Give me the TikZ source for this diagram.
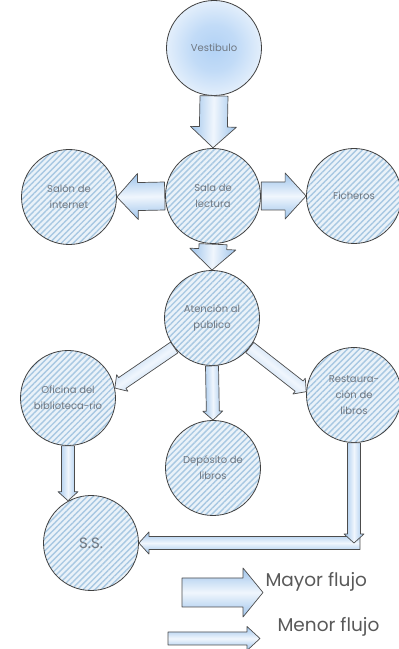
\documentclass[tikz,border=0pt]{standalone}
\usepackage{fontspec}
\setmainfont{Poppins}
\usetikzlibrary{calc,patterns.meta}
\definecolor{HatchBlue}{RGB}{168,200,226}
\definecolor{PaleBlue}{RGB}{234,242,249}
\definecolor{ArrowBlue}{RGB}{158,196,235}
\definecolor{ArrowLight}{RGB}{240,246,253}
\definecolor{LabelGray}{RGB}{112,120,130}
\definecolor{VestCore}{RGB}{178,210,245}
\pgfdeclareradialshading{vestglow}{\pgfpoint{0bp}{0bp}}{%
  color(0bp)=(VestCore); color(12bp)=(VestCore!80!white);
  color(24bp)=(VestCore!40!white); color(35bp)=(VestCore!12!white); color(50bp)=(white)}

% fat arrow: from, to, half shaft, half head, head length
\newcommand{\flujo}[5]{%
  \path (#1) coordinate (fs) (#2) coordinate (fe);
  \pgfmathanglebetweenpoints{\pgfpointanchor{fs}{center}}{\pgfpointanchor{fe}{center}}%
  \let\flang\pgfmathresult
  \coordinate (fb) at ($(fe)!#5!(fs)$);
  \shadedraw[flecha, shading angle=\flang]
    ($(fs)!#3!-90:(fe)$) -- ($(fb)!#3!90:(fs)$) -- ($(fb)!#4!90:(fs)$) -- (fe)
    -- ($(fb)!#4!-90:(fs)$) -- ($(fb)!#3!-90:(fs)$) -- ($(fs)!#3!90:(fe)$) -- cycle;
}

\begin{document}
\begin{tikzpicture}[
    x=1pt, y=1pt,
    lugar/.style={circle,draw=black!75,line width=0.8pt,minimum size=95pt,inner sep=0pt,
      preaction={fill=PaleBlue},
      pattern={Lines[angle=45,distance=4.2pt,line width=1.4pt]},pattern color=HatchBlue,
      text=LabelGray,align=center,font=\fontsize{10}{16}\selectfont},
    entrada/.style={circle,draw=black!75,line width=0.8pt,minimum size=95pt,inner sep=0pt,
      shading=vestglow,text=LabelGray,font=\fontsize{10}{16}\selectfont},
    flecha/.style={draw=black!70,line width=0.7pt,line join=round,
      top color=ArrowBlue,bottom color=ArrowBlue,middle color=ArrowLight},
    leyenda/.style={anchor=west,text=black!65,font=\fontsize{18.5}{22}\selectfont}
]
\useasboundingbox (0,0) rectangle (399,649);

% rooms
\node[entrada] (vest) at (214,601) {Vestibulo};
\node[lugar] (sala) at (213,453) {Sala de\\lectura};
\node[lugar] (salon) at (69,452) {Salón de\\internet};
\node[lugar] (fich) at (354,453) {Ficheros};
\node[lugar] (aten) at (212,331) {Atención al\\público};
\node[lugar] (ofic) at (68,251) {Oficina del\\biblioteca-rio};
\node[lugar] (rest) at (354,254) {Restaura-\\ción de\\libros};
\node[lugar] (depo) at (213,181) {Depósito de\\libros};
\node[lugar, font=\fontsize{15}{18}\selectfont] (ss) at (91,106) {S.S.};

% heavy flow
\flujo{vest.south}{sala.north}{14pt}{23pt}{21pt}
\flujo{sala.west}{salon.east}{14pt}{23pt}{21pt}
\flujo{sala.east}{fich.west}{14pt}{23pt}{21pt}
\flujo{sala.south}{aten.north}{14pt}{23pt}{21pt}

% light flow
\flujo{aten.218}{ofic.12}{6.5pt}{10pt}{9pt}
\flujo{aten.322}{rest.176}{6.5pt}{10pt}{9pt}
\flujo{aten.south}{depo.north}{6.5pt}{10pt}{9pt}
\flujo{ofic.south}{ofic.south |- ss.118}{6.5pt}{10pt}{9pt}
\coordinate (esq) at (rest.south |- ss.east);
\coordinate (esq2) at ($(esq)+(6,0)$);
\flujo{esq2}{ss.east}{6.5pt}{11pt}{10pt}
\flujo{rest.south}{esq}{6.5pt}{10pt}{9pt}

% legend
\coordinate (may1) at (182,56.5);
\coordinate (may2) at (263,56.5);
\coordinate (men1) at (168,10.5);
\coordinate (men2) at (260,10.5);
\flujo{may1}{may2}{14.5pt}{24.5pt}{20pt}
\flujo{men1}{men2}{6.5pt}{12pt}{13pt}
\node[leyenda] (mayor) at (262,67) {Mayor flujo};
\node[leyenda] (menor) at (274,22) {Menor flujo};
\end{tikzpicture}
\end{document}
